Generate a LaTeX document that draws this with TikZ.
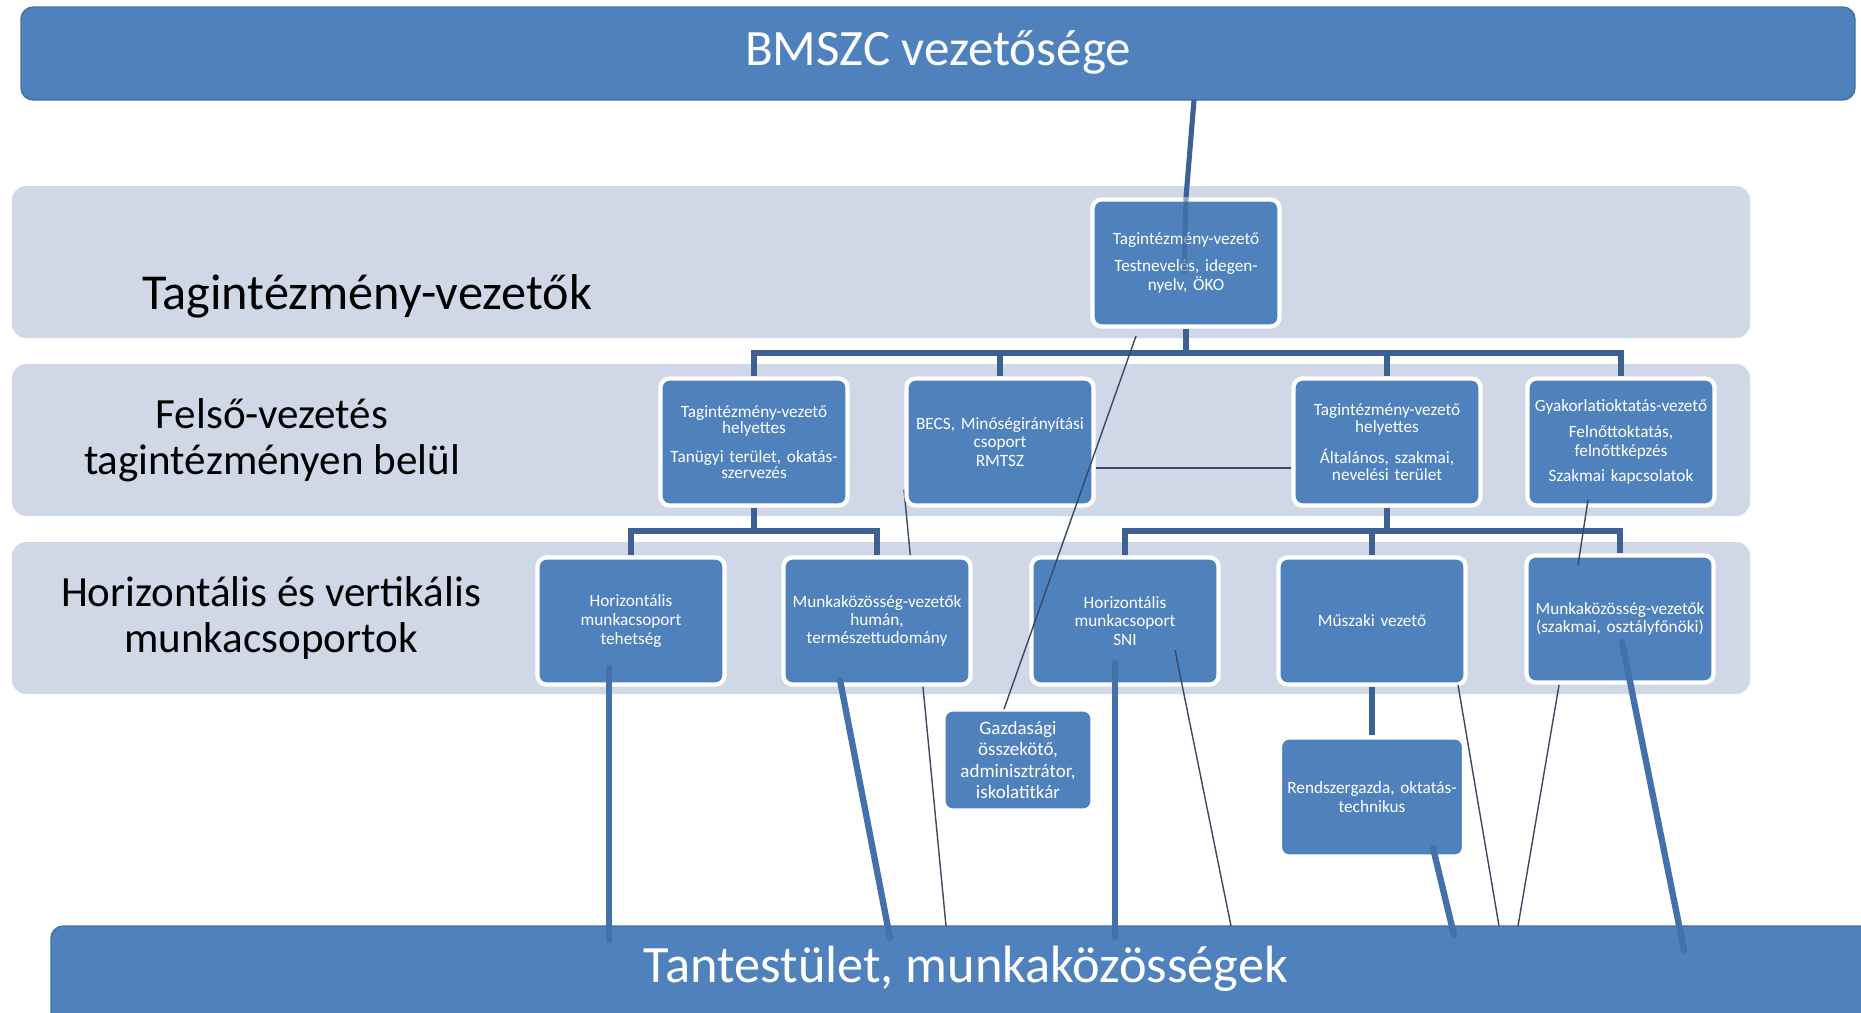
\documentclass[tikz,border=0pt]{standalone}
\usepackage{fontspec}
\setmainfont{Carlito}
\usetikzlibrary{calc}
\definecolor{boxblue}{HTML}{4F81BD}
\definecolor{bandgray}{HTML}{D0D8E8}
\definecolor{barline}{HTML}{41709F}
\definecolor{treeline}{HTML}{3C6192}
\definecolor{thinline}{HTML}{3A4A60}
\definecolor{thickline}{HTML}{4471AA}
\tikzset{
  orgbox/.style={rectangle, rounded corners=2.6pt, fill=boxblue, draw=white, line width=1.2pt,
    minimum width=1.87cm, minimum height=1.27cm, text width=1.84cm, align=center,
    inner sep=0pt, text=white, font=\fontsize{4.9}{5.2}\selectfont},
  tight/.style={font=\fontsize{4.9}{4.6}\selectfont},
  mid/.style={font=\fontsize{4.9}{4.85}\selectfont},
  loose/.style={font=\fontsize{4.9}{5.45}\selectfont},
  band/.style={fill=bandgray, rounded corners=4pt},
  bar/.style={fill=boxblue, draw=barline, line width=0.4pt, rounded corners=3.5pt},
  tree/.style={draw=treeline, line width=1.45pt},
  thinln/.style={draw=thinline, line width=0.4pt},
  thickln/.style={draw=thickline, line width=1.8pt, line cap=round},
  bigtext/.style={font=\fontsize{14.5}{17}\selectfont},
  sidetext/.style={font=\fontsize{12.25}{13.2}\selectfont, align=center, text=black},
}
\begin{document}
\begin{tikzpicture}[x=0.01cm,y=-0.01cm]
\useasboundingbox (0,0) rectangle (1861,1012);
\clip (0,0) rectangle (1861,1012);
\fill[white] (0,0) rectangle (1861,1012);

% bands
\path[band] (12,186) rectangle (1750,338);
\path[band] (12,364) rectangle (1750,516);
\path[band] (12,542) rectangle (1750,694);

% bars
\path[bar] (21,7) rectangle (1855,100);
\node[bigtext, text=white] (topbar) at (938,52) {BMSZC vezetősége};
\path[bar] (51,926) rectangle (1900,1060);
\node[font=\fontsize{14.9}{17}\selectfont, text=white] (botbar) at (966,969) {Tantestület, munkaközösségek};

% side labels
\node[font=\fontsize{14.3}{17}\selectfont, text=black] (lab1) at (367,296) {Tagintézmény-vezetők};
\node[sidetext] (lab2) at (272,440) {Felső-vezetés\\tagintézményen belül};
\node[sidetext] (lab3) at (271,618) {Horizontális és vertikális\\munkacsoportok};

% free ends of connectors
\coordinate (c0) at (1194,100);
\coordinate (bus1) at (1186,353);
\coordinate (bus2) at (754,531);
\coordinate (bus3) at (1387,531);
\coordinate (s1) at (1136,336);
\coordinate (s2) at (1004,709);
\coordinate (b1) at (904,490);
\coordinate (b2) at (946,926);
\coordinate (c1) at (1175,650);
\coordinate (c2) at (1231,926);
\coordinate (e1) at (1588,500);
\coordinate (e2) at (1578,565);
\coordinate (d1) at (1458,685);
\coordinate (d2) at (1499,926);
\coordinate (f1) at (1559,685);
\coordinate (f2) at (1518,926);
\coordinate (ta1) at (609,668);
\coordinate (ta2) at (609,940);
\coordinate (tb1) at (840,680);
\coordinate (tb2) at (890,938);
\coordinate (tc1) at (1115,663);
\coordinate (tc2) at (1115,937);
\coordinate (tr1) at (1433,848);
\coordinate (tr2) at (1454,935);
\coordinate (te1) at (1622,642);
\coordinate (te2) at (1684,950);

% thin line behind boxes
\draw[thinln] (b1) -- (b2);

% boxes
\node[orgbox, loose] (T) at (1186,263) {Tagintézmény-vezető\\[2pt]Testnevelés, idegen-\\nyelv, ÖKO};
\node[orgbox, tight] (L2a) at (754,442) {Tagintézmény-vezető\\helyettes\\[3.5pt]Tanügyi terület, okatás-\\szervezés};
\node[orgbox] (L2b) at (1000,442) {BECS, Minőségirányítási\\csoport\\RMTSZ};
\node[orgbox, mid] (L2c) at (1387,442) {Tagintézmény-vezető\\helyettes\\[2.8pt]Általános, szakmai,\\nevelési terület};
\node[orgbox, loose] (L2d) at (1621,442) {Gyakorlatioktatás-vezető\\[1.7pt]Felnőttoktatás,\\felnőttképzés\\[1.7pt]Szakmai kapcsolatok};
\node[orgbox, loose] (L3a) at (631,621) {Horizontális\\munkacsoport\\tehetség};
\node[orgbox] (L3b) at (877,621) {Munkaközösség-vezetők\\humán,\\természettudomány};
\node[orgbox] (L3c) at (1125,621) {Horizontális\\munkacsoport\\SNI};
\node[orgbox] (L3d) at (1372,621) {Műszaki vezető};
\node[orgbox] (L3e) at (1620,619) {Munkaközösség-vezetők\\(szakmai, osztályfőnöki)};
\node[orgbox, minimum width=1.49cm, minimum height=1.01cm, text width=1.45cm,
  font=\fontsize{5.4}{6}\selectfont] (G) at (1018,760) {Gazdasági\\összekötő,\\adminisztrátor,\\iskolatitkár};
\node[orgbox, loose, minimum width=1.84cm, minimum height=1.19cm] (R) at (1372,797) {Rendszergazda, oktatás-\\technikus};

% tree connectors
\draw[tree] (c0) -- (T.north);
\draw[tree, opacity=0.55] (T.north) -- ($(T.center)+(-2,10)$);
\draw[tree] (T.south) -- (T.south |- bus1);
\draw[tree] (L2a.north) -- (L2a.north |- bus1) -- (L2d.north |- bus1) -- (L2d.north);
\draw[tree] (L2b.north |- bus1) -- (L2b.north);
\draw[tree] (L2c.north |- bus1) -- (L2c.north);
\draw[tree] (L2a.south) -- (L2a.south |- bus2);
\draw[tree] (L3a.north) -- (L3a.north |- bus2) -- (L3b.north |- bus2) -- (L3b.north);
\draw[tree] (L2c.south) -- (L2c.south |- bus3);
\draw[tree] (L3c.north) -- (L3c.north |- bus3) -- (L3e.north |- bus3) -- (L3e.north);
\draw[tree] (L3d.north |- bus3) -- (L3d.north);
\draw[tree] (L3d.south) -- (R.north);

% thin lines
\draw[thinln] (s1) -- (s2);
\draw[thinln] ($(L2b.east)+(0,26)$) -- ($(L2c.west)+(0,26)$);
\draw[thinln] (c1) -- (c2);
\draw[thinln] (e1) -- (e2);
\draw[thinln] (d1) -- (d2);
\draw[thinln] (f1) -- (f2);

% thick lines to the bottom bar
\draw[thickln] (ta1) -- (ta2);
\draw[thickln] (tb1) -- (tb2);
\draw[thickln] (tc1) -- (tc2);
\draw[thickln] (tr1) -- (tr2);
\draw[thickln] (te1) -- (te2);
\end{tikzpicture}
\end{document}
